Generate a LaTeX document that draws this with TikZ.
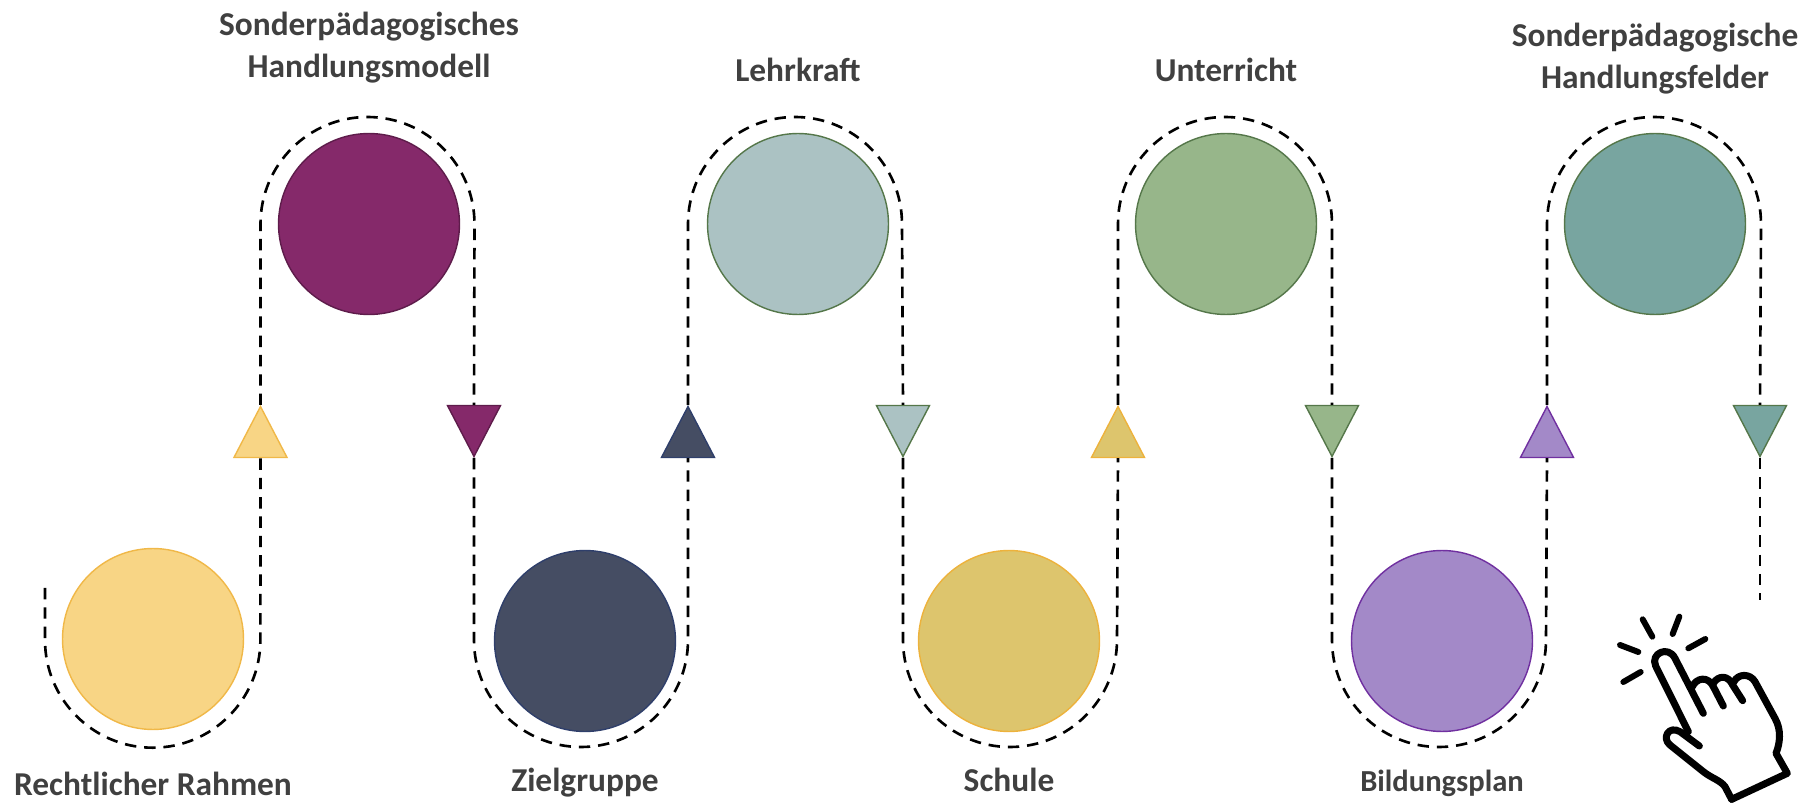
\documentclass[tikz,border=0pt]{standalone}
\usepackage{fontspec}
\setmainfont{Carlito}
\usetikzlibrary{shapes.geometric}
\definecolor{labelgray}{HTML}{404040}
\tikzset{
  station/.style = {circle,draw,line width=0.8pt,minimum size=3.62cm,inner sep=0pt},
  marker/.style = {isosceles triangle,isosceles triangle apex angle=55,draw,line width=0.8pt,
    minimum height=1.02cm,inner sep=0pt,anchor=apex},
  title/.style = {font=\bfseries\fontsize{19}{24}\selectfont,text=labelgray,align=center,anchor=base,inner sep=0pt},
  route/.style = {draw=black,line width=1.5pt,dash pattern=on 6.5pt off 4.5pt},
  hand/.style = {draw=black,line width=4pt,line cap=round,line join=round}
}

\begin{document}
\begin{tikzpicture}[x=0.02cm,y=0.02cm]
  \useasboundingbox (0,0) rectangle (1816,-803);
  \pgfmathsetmacro{\rad}{107} % radius of the route bends
  % stations
  \foreach \name/\cx/\cy/\col/\rim in {
    rahmen/153/639/F8D585/F0B848,
    modell/369/224/85296A/5E1C4B,
    ziel/585/641/454D63/2F3F6B,
    kraft/798/224/ABC2C3/55774A,
    schule/1009/641/DDC56D/EDB23C,
    unterricht/1226/224/97B68A/55774A,
    plan/1442/641/A389C8/7030A0,
    felder/1655/224/78A5A0/55774A}{
    \definecolor{fillc}{HTML}{\col}
    \definecolor{rimc}{HTML}{\rim}
    \node[station,fill=fillc,draw=rimc] (\name) at (\cx,-\cy) {};
  }
  % markers on the route
  \foreach \name/\mx/\ang/\my/\col/\rim in {
    uprahmen/260.5/90/405/F8D585/F0B848,
    downmodell/474/-90/458/85296A/5E1C4B,
    upziel/688/90/405/454D63/2F3F6B,
    downkraft/903/-90/458/ABC2C3/55774A,
    upschule/1118/90/405/DDC56D/EDB23C,
    downunterricht/1332/-90/458/97B68A/55774A,
    upplan/1547/90/405/A389C8/7030A0,
    downfelder/1760/-90/458/78A5A0/55774A}{
    \definecolor{fillc}{HTML}{\col}
    \definecolor{rimc}{HTML}{\rim}
    \node[marker,fill=fillc,draw=rimc,shape border rotate=\ang] (\name) at (\mx,-\my) {};
  }
  % dashed route
  \coordinate (routestart) at (45,-588);
  \coordinate (routeend) at (1760,-600);
  \draw[route] (routestart) -- (45,-640) arc[start angle=180,end angle=360,radius=\rad+0.7] -- (uprahmen.lower side);
  \foreach \a/\b in {uprahmen/downmodell,upziel/downkraft,upschule/downunterricht,upplan/downfelder}{
    \draw[route] (\a.apex) -- ++(0,181) arc[start angle=180,end angle=0,radius=\rad] -- (\b.lower side);
  }
  \foreach \a/\b in {downmodell/upziel,downkraft/upschule,downunterricht/upplan}{
    \draw[route] (\a.apex) -- ++(0,-182) arc[start angle=180,end angle=360,radius=\rad] -- (\b.lower side);
  }
  \draw[route] (downfelder.apex) -- (routeend);
  % labels
  \node[title] (trahmen) at (153,-795) {Rechtlicher Rahmen};
  \node[title] (tmodell) at (369,-78) {Sonderpädagogisches\\Handlungsmodell};
  \node[title] (tziel) at (585,-791) {Zielgruppe};
  \node[title] (tkraft) at (798,-82) {Lehrkraft};
  \node[title] (tschule) at (1009,-791) {Schule};
  \node[title] (tunterricht) at (1226,-82) {Unterricht};
  \node[title,font=\bfseries\fontsize{17.4}{24}\selectfont] (tplan) at (1442,-791) {Bildungsplan};
  \node[title] (tfelder) at (1655,-88.5) {Sonderpädagogische\\Handlungsfelder};
  % hand
  \begin{scope}[shift={(1560,-590)},x=0.00667cm,y=-0.00667cm]
    \draw[hand] (515,628) -- (495,590) .. controls (480,570) and (455,565) .. (430,545)
      -- (330,465) .. controls (305,445) and (325,405) .. (360,425) -- (418,468);
    \draw[hand] (385,425) -- (287,228) .. controls (270,190) and (325,165) .. (345,205) -- (430,370);
    \draw[hand] (397,290) .. controls (410,262) and (445,258) .. (460,290) -- (490,348);
    \draw[hand] (460,280) .. controls (475,255) and (505,255) .. (518,285) -- (548,332);
    \draw[hand] (522,275) .. controls (535,250) and (570,250) .. (585,275) -- (645,385)
      .. controls (665,420) and (660,460) .. (648,490) -- (682,550) -- (515,628);
    \draw[hand,line width=3.4pt] (248,88) -- (277,140) (358,80) -- (338,132) (436,147) -- (385,175)
      (180,165) -- (235,186) (190,276) -- (242,246);
  \end{scope}
\end{tikzpicture}
\end{document}
